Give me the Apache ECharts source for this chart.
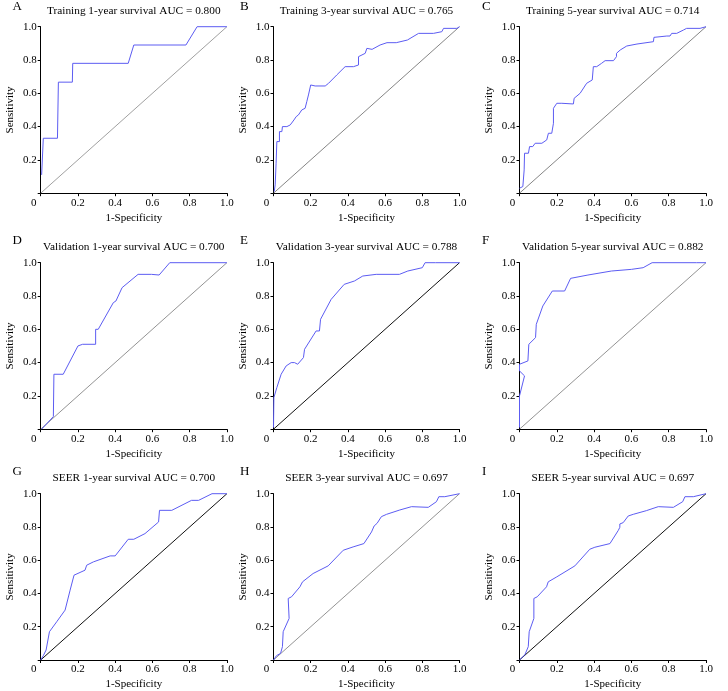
<!DOCTYPE html>
<html><head><meta charset="utf-8">
<script src="https://cdn.jsdelivr.net/npm/echarts@6/dist/echarts.min.js"></script>
<style>html,body{margin:0;padding:0;background:#fff}#c{width:728px;height:691px}</style>
</head><body><div id="c"></div>
<script>
const panelLetters = ['A','B','C','D','E','F','G','H','I'];
const panelTitles = [
  'Training 1-year survival AUC = 0.800',
  'Training 3-year survival AUC = 0.765',
  'Training 5-year survival AUC = 0.714',
  'Validation 1-year survival AUC = 0.700',
  'Validation 3-year survival AUC = 0.788',
  'Validation 5-year survival AUC = 0.882',
  'SEER 1-year survival AUC = 0.700',
  'SEER 3-year survival AUC = 0.697',
  'SEER 5-year survival AUC = 0.697'
];
const xAxisName = '1-Specificity';
const yAxisName = 'Sensitivity';
const tickValues = [0, 0.2, 0.4, 0.6, 0.8, 1.0];

const rocA = [[0.005,0.11],[0.014,0.11],[0.014,0.33],[0.09,0.33],[0.095,0.667],[0.17,0.667],[0.172,0.78],[0.47,0.78],[0.50,0.89],[0.78,0.89],[0.84,1.0],[1.0,1.0]];
const rocB = [[0.004,0.01],[0.009,0.05],[0.014,0.18],[0.018,0.31],[0.032,0.31],[0.032,0.37],[0.045,0.37],[0.048,0.40],[0.072,0.40],[0.08,0.405],[0.09,0.41],[0.11,0.44],[0.122,0.46],[0.134,0.47],[0.152,0.50],[0.17,0.51],[0.179,0.55],[0.188,0.59],[0.2,0.65],[0.224,0.644],[0.278,0.644],[0.296,0.66],[0.34,0.71],[0.385,0.76],[0.43,0.76],[0.457,0.77],[0.457,0.82],[0.493,0.84],[0.502,0.87],[0.53,0.864],[0.573,0.89],[0.61,0.904],[0.66,0.904],[0.72,0.92],[0.78,0.96],[0.86,0.96],[0.905,0.97],[0.914,0.99],[0.986,0.99],[0.995,1.0],[1,1]];
const rocC = [[0,0.03],[0.018,0.04],[0.025,0.14],[0.027,0.24],[0.048,0.24],[0.054,0.28],[0.071,0.28],[0.084,0.30],[0.12,0.30],[0.146,0.32],[0.155,0.36],[0.173,0.36],[0.182,0.42],[0.182,0.51],[0.2,0.54],[0.227,0.54],[0.289,0.536],[0.293,0.57],[0.325,0.60],[0.36,0.66],[0.39,0.68],[0.396,0.76],[0.414,0.76],[0.44,0.78],[0.459,0.796],[0.504,0.796],[0.52,0.82],[0.52,0.84],[0.54,0.86],[0.575,0.884],[0.63,0.896],[0.718,0.91],[0.721,0.936],[0.79,0.944],[0.807,0.944],[0.816,0.96],[0.843,0.96],[0.879,0.98],[0.896,0.99],[0.968,0.99],[1,1]];
const rocD = [[0.005,0],[0.068,0.076],[0.071,0.33],[0.121,0.33],[0.20,0.50],[0.225,0.51],[0.295,0.51],[0.295,0.60],[0.309,0.60],[0.39,0.76],[0.404,0.77],[0.437,0.85],[0.523,0.93],[0.595,0.93],[0.636,0.926],[0.693,1.0],[1,1]];
const rocE = [[0,0.01],[0.002,0.19],[0.018,0.25],[0.041,0.33],[0.068,0.38],[0.095,0.40],[0.113,0.40],[0.13,0.39],[0.161,0.43],[0.167,0.43],[0.167,0.48],[0.229,0.59],[0.247,0.59],[0.253,0.66],[0.31,0.78],[0.38,0.87],[0.435,0.89],[0.48,0.92],[0.552,0.93],[0.677,0.93],[0.722,0.95],[0.8,0.97],[0.815,1.0],[0.87,1.0],[1,1]];
const rocF = [[0,0.01],[0,0.2],[0.027,0.32],[0,0.35],[0,0.39],[0.009,0.39],[0.045,0.41],[0.05,0.41],[0.05,0.51],[0.086,0.55],[0.09,0.63],[0.125,0.74],[0.176,0.83],[0.242,0.83],[0.274,0.906],[0.367,0.926],[0.493,0.95],[0.6,0.96],[0.663,0.97],[0.711,1.0],[0.95,1.0],[1,1]];
const rocG = [[0,0],[0.014,0.026],[0.029,0.06],[0.047,0.17],[0.086,0.23],[0.131,0.30],[0.158,0.42],[0.179,0.51],[0.238,0.54],[0.247,0.57],[0.283,0.59],[0.373,0.626],[0.4,0.626],[0.47,0.726],[0.5,0.726],[0.56,0.76],[0.633,0.83],[0.638,0.90],[0.704,0.90],[0.81,0.96],[0.848,0.96],[0.92,1.0],[1,1]];
const rocH = [[0,0],[0.016,0.026],[0.038,0.04],[0.048,0.08],[0.052,0.17],[0.084,0.25],[0.079,0.37],[0.097,0.38],[0.142,0.44],[0.156,0.47],[0.16,0.48],[0.213,0.52],[0.294,0.566],[0.375,0.66],[0.428,0.68],[0.486,0.70],[0.527,0.77],[0.541,0.806],[0.541,0.818],[0.557,0.822],[0.58,0.862],[0.608,0.876],[0.679,0.902],[0.742,0.922],[0.832,0.918],[0.876,0.952],[0.889,0.982],[0.921,0.982],[1,1]];
const rocI = [[0,0],[0.029,0.032],[0.038,0.04],[0.047,0.08],[0.052,0.17],[0.077,0.25],[0.077,0.37],[0.095,0.38],[0.145,0.44],[0.154,0.47],[0.2,0.50],[0.297,0.566],[0.377,0.666],[0.404,0.678],[0.485,0.70],[0.53,0.78],[0.538,0.798],[0.538,0.818],[0.556,0.826],[0.583,0.866],[0.61,0.876],[0.68,0.898],[0.744,0.922],[0.825,0.918],[0.875,0.952],[0.887,0.982],[0.932,0.982],[1,1]];
const diagonal = [[0,0],[1,1]];
const rocCurves = [rocA, rocB, rocC, rocD, rocE, rocF, rocG, rocH, rocI];
const diagonalColors = ['#888','#666','#666','#777','#111','#777','#111','#777','#111'];

// layout (pixels)
const colLeft = [40.7, 273.5, 519.5];
const colWidth = [186.2, 186, 186.5];
const rowTop = [26.7, 262.7, 493.7];
const rowHeight = 166.5;
const titleTop = [5.5, 241.5, 473];
const letterTop = [0, 234, 465];
const letterLeft = [12.5, 240, 482];

const FONT = '"Liberation Serif", "Times New Roman", serif';
const grids = [], xAxes = [], yAxes = [], series = [], titles = [];
for (let i = 0; i < 9; i++) {
  const r = Math.floor(i / 3), c = i % 3;
  grids.push({left: colLeft[c], top: rowTop[r], width: colWidth[c], height: rowHeight, containLabel: false});
  xAxes.push({
    type: 'value', gridIndex: i, min: 0, max: 1, interval: 0.2,
    name: xAxisName, nameLocation: 'middle', nameGap: 19,
    nameTextStyle: {fontFamily: FONT, fontSize: 11, color: '#000'},
    axisLine: {show: true, onZero: false, lineStyle: {color: '#000', width: 1}},
    axisTick: {show: true, length: 3, lineStyle: {color: '#000'}},
    splitLine: {show: false},
    axisLabel: {
      margin: 4, fontFamily: FONT, fontSize: 11, color: '#000',
      formatter: v => v === 0 ? '{z|0}' : v.toFixed(1),
      rich: {z: {fontFamily: FONT, fontSize: 11, color: '#000', padding: [0, 14, 0, 0]}}
    }
  });
  yAxes.push({
    type: 'value', gridIndex: i, min: 0, max: 1, interval: 0.2,
    name: yAxisName, nameLocation: 'middle', nameGap: 25, nameRotate: 90,
    nameTextStyle: {fontFamily: FONT, fontSize: 11, color: '#000'},
    axisLine: {show: true, onZero: false, lineStyle: {color: '#000', width: 1}},
    axisTick: {show: true, length: 3, lineStyle: {color: '#000'}},
    splitLine: {show: false},
    axisLabel: {
      margin: 4, fontFamily: FONT, fontSize: 11, color: '#000',
      formatter: v => v === 0 ? '' : v.toFixed(1)
    }
  });
  series.push({
    type: 'line', xAxisIndex: i, yAxisIndex: i, data: diagonal, showSymbol: false, symbol: 'none',
    lineStyle: {color: diagonalColors[i], width: diagonalColors[i] === '#111' ? 1 : 0.8}, silent: true, animation: false
  });
  series.push({
    type: 'line', xAxisIndex: i, yAxisIndex: i, data: rocCurves[i], showSymbol: false, symbol: 'none',
    lineStyle: {color: '#5c5cf2', width: 1}, silent: true, animation: false, clip: false
  });
  titles.push({
    text: panelTitles[i], left: colLeft[c] + colWidth[c] / 2, top: titleTop[r], textAlign: 'center', padding: 0,
    textStyle: {fontFamily: FONT, fontSize: 11.3, fontWeight: 'normal', color: '#000'}
  });
  titles.push({
    text: panelLetters[i], left: letterLeft[c], top: letterTop[r], padding: 0,
    textStyle: {fontFamily: FONT, fontSize: 13, fontWeight: 'normal', color: '#000'}
  });
}
const chart = echarts.init(document.getElementById('c'), null, {renderer: 'canvas'});
chart.setOption({
  backgroundColor: '#fff', animation: false,
  title: titles, grid: grids, xAxis: xAxes, yAxis: yAxes, series: series
});
</script>
</body></html>
